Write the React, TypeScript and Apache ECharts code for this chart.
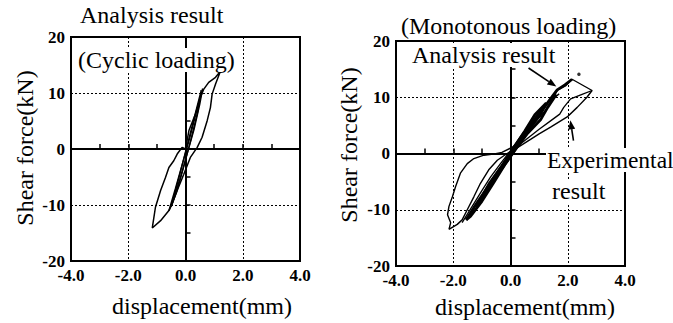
import React, { useEffect, useRef } from "react";
import * as echarts from "echarts";

// ---------- data (displacement mm, shear force kN) ----------
const xTicks = [-4, -2, 0, 2, 4];
const yTicks = [-20, -10, 0, 10, 20];

// Left: analysis result, cyclic loading
const cyclicOuter = [
  [0, 0], [0.12, 3.3], [0.35, 6.3], [0.52, 9.2], [0.64, 10.7], [0.81, 11.9], [1.05, 12.8], [1.22, 13.9],
  [1.05, 11.6], [0.93, 9.8], [0.87, 7.4], [0.76, 5.1], [0.58, 2.1], [0.41, 0.3], [0.17, -1.5], [-0.06, -4.5],
  [-0.29, -7.4], [-0.47, -9.8], [-0.58, -11], [-0.87, -12.8], [-1.16, -14.1],
  [-1.05, -10.4], [-0.87, -7.4], [-0.7, -5.1], [-0.58, -3.3], [-0.41, -2.1], [-0.29, -0.9], [-0.12, 0.3], [0, 0],
];
const cyclicInner1 = [
  [-0.58, -11], [-0.35, -7], [-0.1, -2.5], [0.15, 2], [0.4, 7], [0.6, 10.8],
  [0.5, 8], [0.3, 3.5], [0.05, -1], [-0.2, -5.5], [-0.45, -9.5], [-0.58, -11],
];
const cyclicInner2 = [
  [-0.5, -10.3], [-0.25, -5.5], [0, -0.5], [0.25, 4.5], [0.55, 10.5],
  [0.42, 6.5], [0.18, 1.5], [-0.08, -3.5], [-0.3, -7.5], [-0.5, -10.3],
];

// Right: monotonous loading – experimental result (thin)
const expOuter = [
  [-2.15, -13.5], [-1.86, -12.6], [-1.69, -11.8], [-1.51, -10], [-1.28, -7.7], [-1.05, -5.3], [-0.76, -2.9],
  [-0.46, -1.2], [-0.12, 0], [0.23, 1.0], [0.7, 2.5], [1.0, 3.5], [1.4, 4.7], [1.98, 6.5], [2.33, 8.2],
  [2.67, 10], [2.85, 11.2], [2.15, 13.2], [1.92, 12], [1.63, 11.2], [1.45, 9.5], [1.2, 7.5], [0.9, 5.8],
  [0.5, 3.5], [0.1, 1.2], [-0.3, 0.2], [-0.6, -0.1], [-0.93, -0.3], [-1.28, -0.9], [-1.51, -1.8],
  [-1.75, -3.5], [-1.92, -5.9], [-2.03, -7.7], [-2.15, -9.4], [-2.2, -10.9], [-2.09, -12.3], [-2.15, -13.5],
];
const expInner = [
  [2.85, 11.2], [2.5, 10.5], [2.1, 9.7], [1.86, 8.2], [1.72, 7], [1.4, 5.8], [1.0, 4.3], [0.5, 2.3], [0, 0.3],
];
const expBandEdge = [
  [-1.69, -12.3], [-1.35, -9.5], [-1.0, -6.6], [-0.7, -4.2], [-0.35, -1.8], [0, 0.5], [0.4, 3.4], [0.8, 6.0],
  [1.15, 8.4], [1.45, 9.6], [1.7, 10.6],
];
// Right: analysis result (thick band)
const anaUp = [
  [-1.55, -11.8], [-1.2, -9], [-0.8, -6], [-0.4, -3], [0, 0], [0.4, 3], [0.8, 5.7], [1.1, 7.6],
  [1.35, 9.4], [1.63, 11.3], [1.9, 12.2], [2.15, 13.2],
];
const anaDown = [
  [1.6, 10.5], [1.3, 8.2], [1.05, 6.0], [0.6, 3.6], [0.2, 0.9], [-0.2, -2.0], [-0.6, -5.3], [-1.0, -8.5],
  [-1.4, -11.2], [-1.55, -11.8],
];
const anaInner = [
  [-1.2, -9.6], [-0.75, -5.4], [-0.3, -2.2], [0.1, 0.9], [0.5, 4.0], [0.85, 6.9], [1.25, 9.0],
  [1.05, 7.0], [0.65, 4.3], [0.25, 1.4], [-0.15, -1.6], [-0.55, -4.4], [-0.95, -7.8], [-1.2, -9.6],
];
const dotPoint = [[2.39, 14.1]];

// annotation arrows (data coords of right panel): [tail, tip]
const analysisArrow = [[0.63, 15.2], [1.6, 11.9]];
const experimentalArrow = [[2.2, 2.3], [2.09, 5.9]];

const FONT = "Liberation Serif, Times New Roman, serif";

function makeAxes(gi: number) {
  const common = {
    gridIndex: gi,
    type: "value" as const,
    axisLine: { show: true, lineStyle: { color: "#000", width: 2 } },
    axisTick: { show: true, inside: true, length: 5, lineStyle: { color: "#000", width: 1.5 } },
    minorTick: { show: true, splitNumber: 2, length: 5, lineStyle: { color: "#000", width: 1.5 } },
    splitLine: { show: true, lineStyle: { color: "#000", width: 1, type: [2, 2] } },
    axisLabel: { color: "#000", fontFamily: FONT, fontWeight: "bold", fontSize: 17 },
  };
  const x = {
    ...common,
    min: xTicks[0], max: xTicks[xTicks.length - 1], interval: xTicks[1] - xTicks[0],
    axisLabel: { ...common.axisLabel, margin: 6, formatter: (v: number) => v.toFixed(1) },
  };
  const y = {
    ...common,
    min: yTicks[0], max: yTicks[yTicks.length - 1], interval: yTicks[1] - yTicks[0],
    axisLabel: { ...common.axisLabel, margin: 6, formatter: (v: number) => String(v) },
  };
  return { x, y };
}

function lineSeries(data: number[][], gi: number, width: number) {
  return {
    type: "line",
    xAxisIndex: gi,
    yAxisIndex: gi,
    data,
    showSymbol: false,
    symbol: "none",
    smooth: false,
    lineStyle: { color: "#000", width },
    z: 3,
  };
}

function txt(text: string, x: number, y: number, align = "left", extra: any = {}, size = 24) {
  const { style: extraStyle, ...rest } = extra;
  return {
    type: "text",
    x,
    y,
    z: 100,
    ...rest,
    style: {
      text,
      fill: "#000",
      font: `${size}px ${FONT}`,
      fontSize: size,
      fontFamily: FONT,
      textAlign: align,
      textVerticalAlign: "middle",
      ...(extraStyle || {}),
    },
  };
}

export default function App() {
  const ref = useRef<HTMLDivElement>(null);
  useEffect(() => {
    document.body.style.margin = "0";
    const chart = echarts.init(ref.current!, null, { renderer: "svg" });
    const a0 = makeAxes(0);
    const a1 = makeAxes(1);
    chart.setOption({
      animation: false,
      backgroundColor: "#fff",
      textStyle: { fontFamily: FONT },
      grid: [
        { left: 71, top: 37, width: 229, height: 224, show: true, borderColor: "#000", borderWidth: 2, backgroundColor: "transparent" },
        { left: 396, top: 41, width: 229, height: 225, show: true, borderColor: "#000", borderWidth: 2, backgroundColor: "transparent" },
      ],
      xAxis: [a0.x, a1.x],
      yAxis: [a0.y, a1.y],
      series: [
        lineSeries(cyclicOuter, 0, 1.5),
        lineSeries(cyclicInner1, 0, 1.4),
        lineSeries(cyclicInner2, 0, 1.4),
        lineSeries(expOuter, 1, 1.4),
        lineSeries(expInner, 1, 1.3),
        lineSeries(expBandEdge, 1, 1.3),
        lineSeries(anaUp, 1, 2.8),
        lineSeries(anaDown, 1, 2.8),
        lineSeries(anaInner, 1, 2.8),
        {
          type: "scatter",
          xAxisIndex: 1,
          yAxisIndex: 1,
          data: dotPoint,
          symbolSize: 3.5,
          itemStyle: { color: "#000" },
          z: 4,
        },
      ],
    });

    const px = (p: number[]) => chart.convertToPixel({ gridIndex: 1 }, p) as number[];
    const arrow = (pts: number[][]) => {
      const [t, h] = [px(pts[0]), px(pts[1])];
      const dx = h[0] - t[0], dy = h[1] - t[1];
      const len = Math.hypot(dx, dy);
      const ux = dx / len, uy = dy / len;
      const hl = 9, hw = 3.5;
      const bx = h[0] - ux * hl, by = h[1] - uy * hl;
      return [
        { type: "line", z: 101, shape: { x1: t[0], y1: t[1], x2: bx, y2: by }, style: { stroke: "#000", lineWidth: 1.6 } },
        {
          type: "polygon", z: 101,
          shape: { points: [[h[0], h[1]], [bx - uy * hw, by + ux * hw], [bx + uy * hw, by - ux * hw]] },
          style: { fill: "#000" },
        },
      ];
    };
    const bg = { style: { backgroundColor: "#fff", padding: [0, 1] } };

    chart.setOption({
      graphic: [
        txt("Analysis result", 80, 15),
        txt("(Cyclic loading)", 77, 60, "left", bg),
        txt("displacement(mm)", 202, 306, "center"),
        txt("Shear force(kN)", 25, 148, "center", { rotation: Math.PI / 2 }),
        txt("(Monotonous loading)", 401, 26),
        txt("Analysis result", 411, 55, "left", bg),
        txt("Experimental", 546, 160, "left", bg, 23.5),
        txt("result", 551, 191, "left", bg),
        txt("displacement(mm)", 525, 307, "center"),
        txt("Shear force(kN)", 349, 145, "center", { rotation: Math.PI / 2 }),
        ...arrow(analysisArrow),
        ...arrow(experimentalArrow),
      ],
    });
    return () => chart.dispose();
  }, []);
  return <div ref={ref} style={{ width: 673, height: 323 }} />;
}
